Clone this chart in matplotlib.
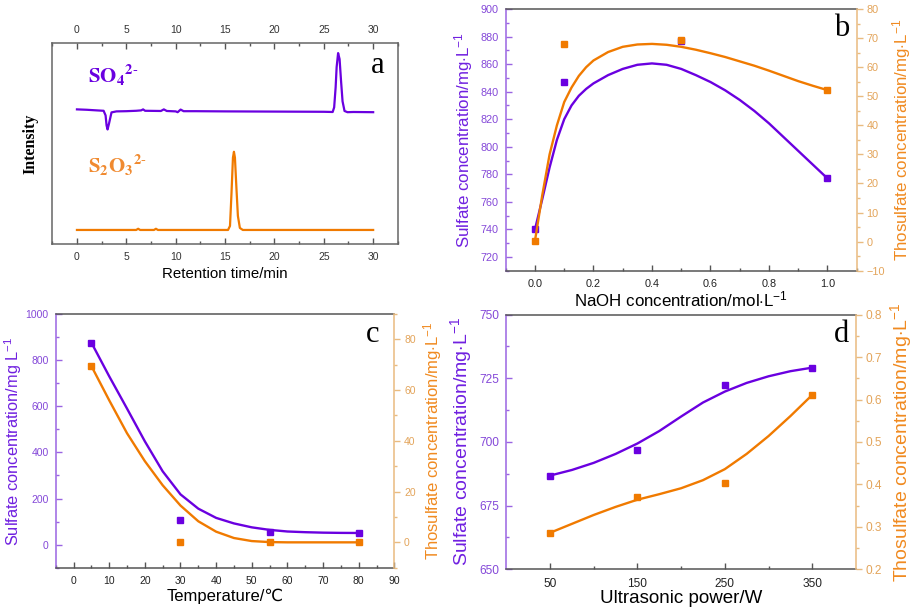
import numpy as np
import matplotlib
matplotlib.use("Agg")
import matplotlib.pyplot as plt
from matplotlib.ticker import MultipleLocator, FixedLocator

plt.rcParams['font.family'] = ['Liberation Sans', 'DejaVu Sans']
plt.rcParams['mathtext.fontset'] = 'custom'
plt.rcParams['mathtext.rm'] = 'Liberation Sans'
plt.rcParams['mathtext.it'] = 'Liberation Sans:italic'
plt.rcParams['mathtext.bf'] = 'Liberation Sans:bold'

# colours
purple = '#6a00e0'
purple_tick = '#8448d8'
purple_spine = '#9a64e2'
orange = '#f07a00'
orange_tick = '#e3a45a'
orange_spine = '#e9bb80'
dark = '#555555'

# ---- panel a: chromatograms ----
so4_t = [0, 1, 2, 2.7, 2.9, 3.0, 3.1, 3.25, 3.5, 4, 5, 5.5, 6.0, 6.5, 6.7, 6.9, 8.5, 8.8, 9.1,
         10.0, 10.2, 10.5, 10.8, 12, 15, 20, 25, 25.9, 26.05, 26.2, 26.3, 26.45, 26.6, 26.75,
         26.9, 27.1, 27.4, 28, 30]
so4_i = [67, 66.8, 66.5, 66.3, 64, 59, 57, 60, 65.5, 66, 66.1, 66.2, 66.3, 66.5, 67.0, 66.3,
         66.2, 67.0, 66.2, 66.0, 65.6, 66.9, 66.1, 66.1, 66.0, 65.9, 65.8, 65.7, 68, 78, 88,
         95, 92, 81, 71, 66.2, 65.6, 65.7, 65.6]
s2o3_t = [0, 5, 6.0, 6.2, 6.4, 7.8, 8.0, 8.2, 12, 15.3, 15.5, 15.65, 15.8, 15.9, 16.0, 16.15,
          16.3, 16.5, 16.8, 20, 25, 30]
s2o3_i = [7, 7, 7, 7.6, 7, 7, 7.6, 7, 7, 7, 9, 25, 43, 45.9, 43, 28, 14, 8, 7, 7, 7, 7]

# ---- panel b: NaOH ----
naoh = [0.0, 0.1, 0.5, 1.0]
b_sulfate = [740, 847, 877, 777]
b_thio = [0.3, 68, 69.5, 52]
b_fit_x = [0, 0.025, 0.05, 0.075, 0.1, 0.125, 0.15, 0.175, 0.2, 0.25, 0.3, 0.35, 0.4, 0.45,
           0.5, 0.55, 0.6, 0.65, 0.7, 0.75, 0.8, 0.85, 0.9, 0.95, 1.0]
b_fit_sulfate = [740, 762, 785, 805, 820, 830, 837, 842, 846, 852, 856.5, 859.5, 860.5, 859.5,
                 856.5, 852, 847, 841, 834, 826, 817, 807, 797, 787, 777]
b_fit_thio = [0.3, 16, 30, 40, 48, 53, 57, 60, 62.3, 65.2, 67, 67.8, 68, 67.7, 67, 66, 64.8,
              63.5, 62, 60.5, 58.8, 57, 55.2, 53.6, 52.1]

# ---- panel c: temperature ----
temp = [5, 30, 55, 80]
c_sulfate = [876, 107, 56, 50]
c_thio = [69.5, 0, 0, 0]
c_fit_x = [5, 10, 15, 20, 25, 30, 35, 40, 45, 50, 55, 60, 65, 70, 75, 80]
c_fit_sulfate = [876, 730, 590, 448, 318, 218, 156, 116, 92, 75, 64, 57, 54, 52, 51, 50.6]
c_fit_thio = [69.5, 56, 43, 32, 22.5, 14.5, 8.3, 4.2, 1.7, 0.5, 0.1, 0, 0, 0, 0, 0]

# ---- panel d: ultrasonic power ----
power = [50, 150, 250, 350]
d_sulfate = [686.8, 696.7, 722.3, 729.2]
d_thio = [0.286, 0.37, 0.404, 0.61]
d_fit_x = [50, 75, 100, 125, 150, 175, 200, 225, 250, 275, 300, 325, 350]
d_fit_sulfate = [686.8, 689, 691.8, 695.3, 699.4, 704.3, 710, 715.5, 719.8, 723.2, 725.8, 727.8, 729.2]
d_fit_thio = [0.286, 0.307, 0.328, 0.347, 0.364, 0.377, 0.391, 0.41, 0.436, 0.472, 0.514, 0.561, 0.611]

sulfate_label = 'Sulfate concentration/mg$\\cdot$L$^{-1}$'
thio_label = 'Thosulfate concentration/mg$\\cdot$L$^{-1}$'

fig = plt.figure(figsize=(9.15, 6.09), dpi=100)


def twin_panel(rect, fs_tick, fs_lab):
    ax = fig.add_axes(rect)
    ax2 = ax.twinx()
    for s in ['top', 'bottom']:
        ax.spines[s].set_color(dark)
        ax.spines[s].set_linewidth(1.1)
    ax.spines['left'].set_color(purple_spine)
    ax.spines['left'].set_linewidth(1.1)
    ax.spines['right'].set_visible(False)
    for s in ['left', 'top', 'bottom']:
        ax2.spines[s].set_visible(False)
    ax2.spines['right'].set_color(orange_spine)
    ax2.spines['right'].set_linewidth(1.1)
    ax.tick_params(axis='x', which='both', direction='in', colors=dark, labelcolor='#222222',
                   labelsize=fs_tick, width=1.0, pad=6)
    ax.tick_params(axis='x', which='major', length=4)
    ax.tick_params(axis='x', which='minor', length=2)
    ax.tick_params(axis='y', which='both', direction='in', colors=purple_spine,
                   labelcolor=purple_tick, labelsize=fs_tick, width=1.0, pad=5)
    ax.tick_params(axis='y', which='major', length=4)
    ax.tick_params(axis='y', which='minor', length=2)
    ax2.tick_params(axis='y', which='both', direction='out', colors=orange_spine,
                    labelcolor=orange_tick, labelsize=fs_tick, width=1.0, pad=3)
    ax2.tick_params(axis='y', which='major', length=4)
    ax2.tick_params(axis='y', which='minor', length=2)
    ax.set_ylabel(sulfate_label, color='#7020e0', fontsize=fs_lab, labelpad=4)
    ax2.set_ylabel(thio_label, color='#f08a20', fontsize=fs_lab, labelpad=4)
    return ax, ax2


# ================= a =================
axa = fig.add_axes([0.0568, 0.5993, 0.378, 0.330])
axa.plot(so4_t, so4_i, color=purple, lw=1.6)
axa.plot(s2o3_t, s2o3_i, color=orange, lw=1.6)
axa.set_xlim(-2.53, 32.5)
axa.set_ylim(0, 100)
axa.set_yticks([])
axa.xaxis.set_major_locator(MultipleLocator(5))
axa.xaxis.set_minor_locator(MultipleLocator(2.5))
axa.tick_params(axis='x', which='both', direction='in', top=True, labeltop=True,
                colors=dark, labelcolor='#333333', labelsize=7.5, width=1.0, pad=6)
axa.tick_params(axis='x', which='major', length=4)
axa.tick_params(axis='x', which='minor', length=2)
for s in axa.spines.values():
    s.set_color('#666666')
    s.set_linewidth(1.1)
axa.set_xlabel('Retention time/min', fontsize=10.8, labelpad=3)
axa.set_ylabel('Intensity', fontsize=11.5, fontweight='bold', family='Liberation Serif', labelpad=10)
axa.text(0.104, 0.84, r'$\mathbf{SO_4{}^{2\text{-}}}$', transform=axa.transAxes, color=purple,
         fontsize=15, va='center', ha='left', math_fontfamily='stix')
axa.text(0.104, 0.393, r'$\mathbf{S_2O_3{}^{2\text{-}}}$', transform=axa.transAxes, color='#f08a30',
         fontsize=15, va='center', ha='left', math_fontfamily='stix')
axa.text(0.942, 0.89, 'a', transform=axa.transAxes, fontsize=22, family='Liberation Serif',
         ha='center', va='center')

# ================= b =================
axb, axb2 = twin_panel([0.5527, 0.5555, 0.3836, 0.4297], 7.8, 12.2)
axb.plot(b_fit_x, b_fit_sulfate, color=purple, lw=1.7)
axb.plot(naoh, b_sulfate, 's', color=purple, ms=4)
axb2.plot(b_fit_x, b_fit_thio, color=orange, lw=1.7)
axb2.plot(naoh, b_thio, 's', color=orange, ms=4)
axb.set_xlim(-0.1, 1.1)
axb.set_ylim(710, 900)
axb2.set_ylim(-10, 80)
axb.xaxis.set_major_locator(MultipleLocator(0.2))
axb.xaxis.set_minor_locator(MultipleLocator(0.1))
axb.yaxis.set_major_locator(FixedLocator(np.arange(720, 901, 20)))
axb.yaxis.set_minor_locator(MultipleLocator(10))
axb2.yaxis.set_major_locator(MultipleLocator(10))
axb2.yaxis.set_minor_locator(MultipleLocator(5))
axb.set_xlabel('NaOH concentration/mol$\\cdot$L$^{-1}$', fontsize=12.2, labelpad=0)
axb.text(0.957, 0.924, 'b', transform=axb.transAxes, fontsize=22, family='Liberation Serif',
         ha='center', va='center')

# ================= c =================
axc, axc2 = twin_panel([0.0609, 0.0678, 0.3701, 0.4166], 7.5, 12)
axc.set_ylabel('Sulfate concentration/mg L$^{-1}$', color='#7020e0', fontsize=11.8, labelpad=1)
axc.plot(c_fit_x, c_fit_sulfate, color=purple, lw=1.7)
axc.plot(temp, c_sulfate, 's', color=purple, ms=4)
axc2.plot(c_fit_x, c_fit_thio, color=orange, lw=1.7)
axc2.plot(temp, c_thio, 's', color=orange, ms=4)
axc.set_xlim(-5, 90)
axc.set_ylim(-100, 1000)
axc2.set_ylim(-10, 90)
axc.xaxis.set_major_locator(MultipleLocator(10))
axc.xaxis.set_minor_locator(MultipleLocator(5))
axc.yaxis.set_major_locator(FixedLocator(np.arange(0, 1001, 200)))
axc.yaxis.set_minor_locator(MultipleLocator(100))
axc2.yaxis.set_major_locator(FixedLocator(np.arange(0, 81, 20)))
axc2.yaxis.set_minor_locator(MultipleLocator(10))
axc.set_xlabel('Temperature/\u2103', fontsize=12, labelpad=2)
axc.text(0.937, 0.921, 'c', transform=axc.transAxes, fontsize=22, family='Liberation Serif',
         ha='center', va='center')

# ================= d =================
axd, axd2 = twin_panel([0.5533, 0.0652, 0.3822, 0.4181], 8.6, 14)
axd.plot(d_fit_x, d_fit_sulfate, color=purple, lw=1.7)
axd.plot(power, d_sulfate, 's', color=purple, ms=4)
axd2.plot(d_fit_x, d_fit_thio, color=orange, lw=1.7)
axd2.plot(power, d_thio, 's', color=orange, ms=4)
axd.set_xlim(0, 400)
axd.set_ylim(650, 750)
axd2.set_ylim(0.2, 0.8)
axd.xaxis.set_major_locator(FixedLocator(power))
axd.xaxis.set_minor_locator(FixedLocator([100, 200, 300]))
axd.yaxis.set_major_locator(MultipleLocator(25))
axd.yaxis.set_minor_locator(MultipleLocator(12.5))
axd2.yaxis.set_major_locator(MultipleLocator(0.1))
axd2.yaxis.set_minor_locator(MultipleLocator(0.05))
axd.set_xlabel('Ultrasonic power/W', fontsize=13.5, labelpad=0)
axd.text(0.959, 0.924, 'd', transform=axd.transAxes, fontsize=22, family='Liberation Serif',
         ha='center', va='center')

fig.savefig('out.png', dpi=100)
